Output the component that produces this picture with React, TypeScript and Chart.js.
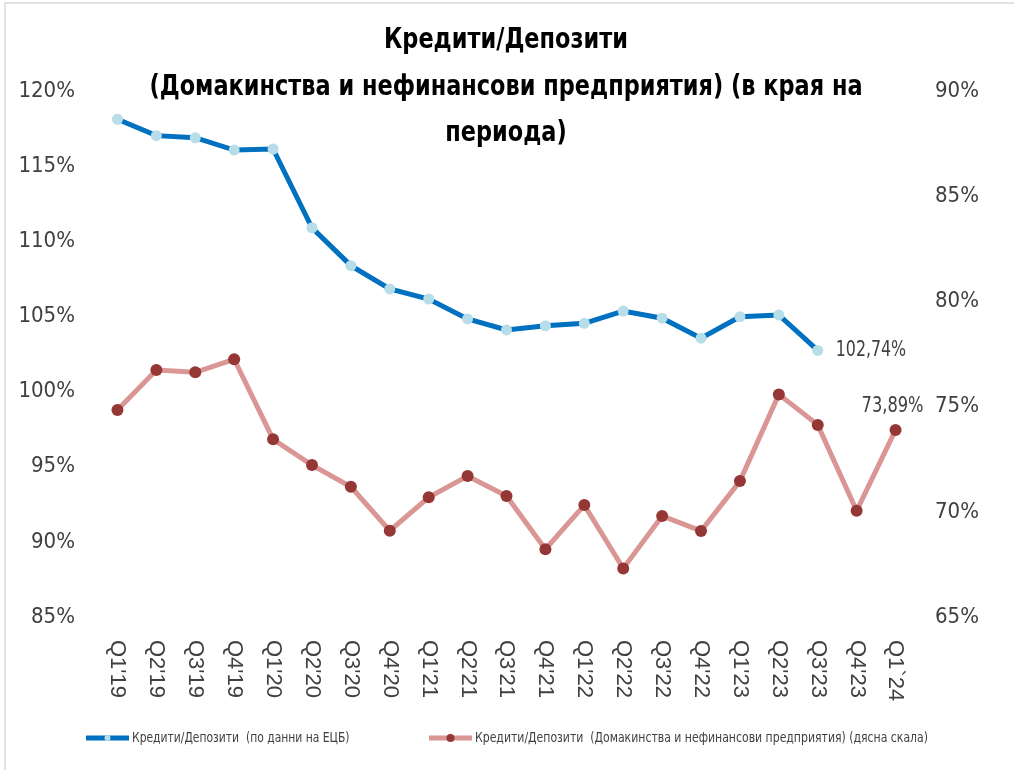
import React, { useEffect, useRef } from "react";
import { Chart, registerables } from "chart.js";

Chart.register(...registerables);

const categories = [
  "Q1'19", "Q2'19", "Q3'19", "Q4'19",
  "Q1'20", "Q2'20", "Q3'20", "Q4'20",
  "Q1'21", "Q2'21", "Q3'21", "Q4'21",
  "Q1'22", "Q2'22", "Q3'22", "Q4'22",
  "Q1'23", "Q2'23", "Q3'23", "Q4'23",
  "Q1`24",
];

const loansDepositsEcb = [
  118.12, 117.03, 116.89, 116.07,
  116.14, 110.9, 108.38, 106.83,
  106.16, 104.83, 104.1, 104.38,
  104.54, 105.36, 104.88, 103.55,
  104.98, 105.1, 102.74, null,
  null,
];

const loansDepositsHhNfc = [
  74.84, 76.74, 76.63, 77.25,
  73.45, 72.22, 71.19, 69.1,
  70.69, 71.7, 70.75, 68.22,
  70.32, 67.31, 69.8, 69.09,
  71.46, 75.58, 74.13, 70.05,
  73.89,
];

const leftTicks = [85, 90, 95, 100, 105, 110, 115, 120];
const rightTicks = [65, 70, 75, 80, 85, 90];

const titleLines = [
  "Кредити/Депозити",
  "(Домакинства и нефинансови предприятия) (в края на",
  "периода)",
];

const seriesNames = [
  "Кредити/Депозити  (по данни на ЕЦБ)",
  "Кредити/Депозити  (Домакинства и нефинансови предприятия) (дясна скала)",
];

const lastLabels = ["102,74%", "73,89%"];

const NARROW = "'Liberation Sans Narrow', 'DejaVu Sans Condensed', 'Arial Narrow', sans-serif";
const REGULAR = "'Liberation Sans', Arial, sans-serif";
const TEXT = "#404040";
const BLUE = "#0070C0";
const BLUE_PT = "#B7DEE8";
const RED = "#D99694";
const RED_PT = "#953735";

function squeezedText(ctx: any, text: string, x: number, y: number, sx: number) {
  ctx.save();
  ctx.translate(x, y);
  ctx.scale(sx, 1);
  ctx.fillText(text, 0, 0);
  ctx.restore();
}

const decorPlugin = {
  id: "decor",
  beforeDraw(chart: any) {
    const ctx = chart.ctx;
    ctx.save();
    ctx.strokeStyle = "#D9D9D9";
    ctx.lineWidth = 1.5;
    ctx.beginPath();
    ctx.moveTo(5, 770);
    ctx.lineTo(5, 3);
    ctx.lineTo(1014, 3);
    ctx.stroke();
    ctx.restore();
  },
  afterDraw(chart: any) {
    const ctx = chart.ctx;
    ctx.save();
    // title
    ctx.fillStyle = "#000";
    ctx.font = `bold 29px ${NARROW}`;
    ctx.textAlign = "center";
    ctx.textBaseline = "middle";
    const ty = [40, 87, 133];
    titleLines.forEach((t, i) => squeezedText(ctx, t, 506, ty[i], 0.86));

    // x labels rotated clockwise
    const xs = chart.scales.x;
    ctx.fillStyle = TEXT;
    ctx.font = `22px ${REGULAR}`;
    ctx.textAlign = "left";
    ctx.textBaseline = "middle";
    categories.forEach((c, i) => {
      const x = xs.getPixelForTick(i);
      ctx.save();
      ctx.translate(x, 640);
      ctx.rotate(Math.PI / 2);
      ctx.fillText(c, 0, 0);
      ctx.restore();
    });

    // legend
    const ly = 738;
    ctx.font = `14px ${NARROW}`;
    ctx.textBaseline = "middle";
    ctx.textAlign = "left";
    // blue
    ctx.strokeStyle = BLUE;
    ctx.lineWidth = 5;
    ctx.beginPath();
    ctx.moveTo(86, ly);
    ctx.lineTo(129, ly);
    ctx.stroke();
    ctx.fillStyle = BLUE_PT;
    ctx.beginPath();
    ctx.arc(107.5, ly, 3, 0, Math.PI * 2);
    ctx.fill();
    ctx.fillStyle = TEXT;
    squeezedText(ctx, seriesNames[0], 132, ly, 0.855);
    // red
    ctx.strokeStyle = RED;
    ctx.lineWidth = 5;
    ctx.beginPath();
    ctx.moveTo(429, ly);
    ctx.lineTo(472, ly);
    ctx.stroke();
    ctx.fillStyle = RED_PT;
    ctx.beginPath();
    ctx.arc(450.5, ly, 4, 0, Math.PI * 2);
    ctx.fill();
    ctx.fillStyle = TEXT;
    squeezedText(ctx, seriesNames[1], 475, ly, 0.865);
    ctx.restore();
  },
  afterDatasetsDraw(chart: any) {
    const ctx = chart.ctx;
    ctx.save();
    ctx.fillStyle = TEXT;
    ctx.font = `22px ${NARROW}`;
    ctx.textBaseline = "middle";
    const m0 = chart.getDatasetMeta(0);
    let i0 = -1;
    loansDepositsEcb.forEach((v, i) => { if (v !== null) i0 = i; });
    if (i0 >= 0) {
      const p = m0.data[i0];
      ctx.textAlign = "left";
      squeezedText(ctx, lastLabels[0], p.x + 18, p.y, 0.8);
    }
    const m1 = chart.getDatasetMeta(1);
    const i1 = loansDepositsHhNfc.length - 1;
    const p1 = m1.data[i1];
    ctx.textAlign = "center";
    squeezedText(ctx, lastLabels[1], p1.x - 3, p1.y - 24, 0.82);
    ctx.restore();
  },
};

export default function App() {
  const ref = useRef<HTMLCanvasElement | null>(null);
  useEffect(() => {
    if (!ref.current) return;
    const tickFont = { family: NARROW, size: 22 };
    const chart = new Chart(ref.current, {
      type: "line",
      data: {
        labels: categories,
        datasets: [
          {
            label: seriesNames[0],
            data: loansDepositsEcb,
            yAxisID: "y",
            borderColor: BLUE,
            backgroundColor: BLUE,
            borderWidth: 5,
            pointBackgroundColor: BLUE_PT,
            pointBorderWidth: 0,
            pointRadius: 5.5,
            tension: 0,
            spanGaps: false,
          },
          {
            label: seriesNames[1],
            data: loansDepositsHhNfc,
            yAxisID: "y1",
            borderColor: RED,
            backgroundColor: RED,
            borderWidth: 5,
            pointBackgroundColor: RED_PT,
            pointBorderWidth: 0,
            pointRadius: 6,
            tension: 0,
          },
        ],
      },
      options: {
        responsive: false,
        animation: false,
        layout: { padding: { top: 91, left: 0, right: 0, bottom: 0 } },
        plugins: {
          legend: { display: false },
          title: { display: false },
          tooltip: { enabled: false },
        },
        scales: {
          x: {
            type: "category",
            offset: true,
            grid: { display: false, drawTicks: false },
            border: { display: false },
            ticks: { display: false },
            afterFit: (s: any) => { s.height = 163; },
          },
          y: {
            position: "left",
            min: 85,
            max: 120,
            afterBuildTicks: (s: any) => { s.ticks = leftTicks.map((v) => ({ value: v })); },
            ticks: {
              callback: (v: any) => `${v}%`,
              font: tickFont,
              color: TEXT,
              padding: 23,
            },
            grid: { display: false, drawTicks: false },
            border: { display: false },
            afterFit: (s: any) => { s.width = 98; },
          },
          y1: {
            position: "right",
            min: 65,
            max: 90,
            afterBuildTicks: (s: any) => { s.ticks = rightTicks.map((v) => ({ value: v })); },
            ticks: {
              callback: (v: any) => `${v}%`,
              font: tickFont,
              color: TEXT,
              padding: 20,
            },
            grid: { display: false, drawTicks: false },
            border: { display: false },
            afterFit: (s: any) => { s.width = 109; },
          },
        },
      },
      plugins: [decorPlugin],
    } as any);
    return () => chart.destroy();
  }, []);

  return (
    <div style={{ position: "absolute", left: 0, top: 0, width: 1024, height: 780, background: "#fff" }}>
      <canvas ref={ref} width={1024} height={780} style={{ display: "block" }} />
    </div>
  );
}
